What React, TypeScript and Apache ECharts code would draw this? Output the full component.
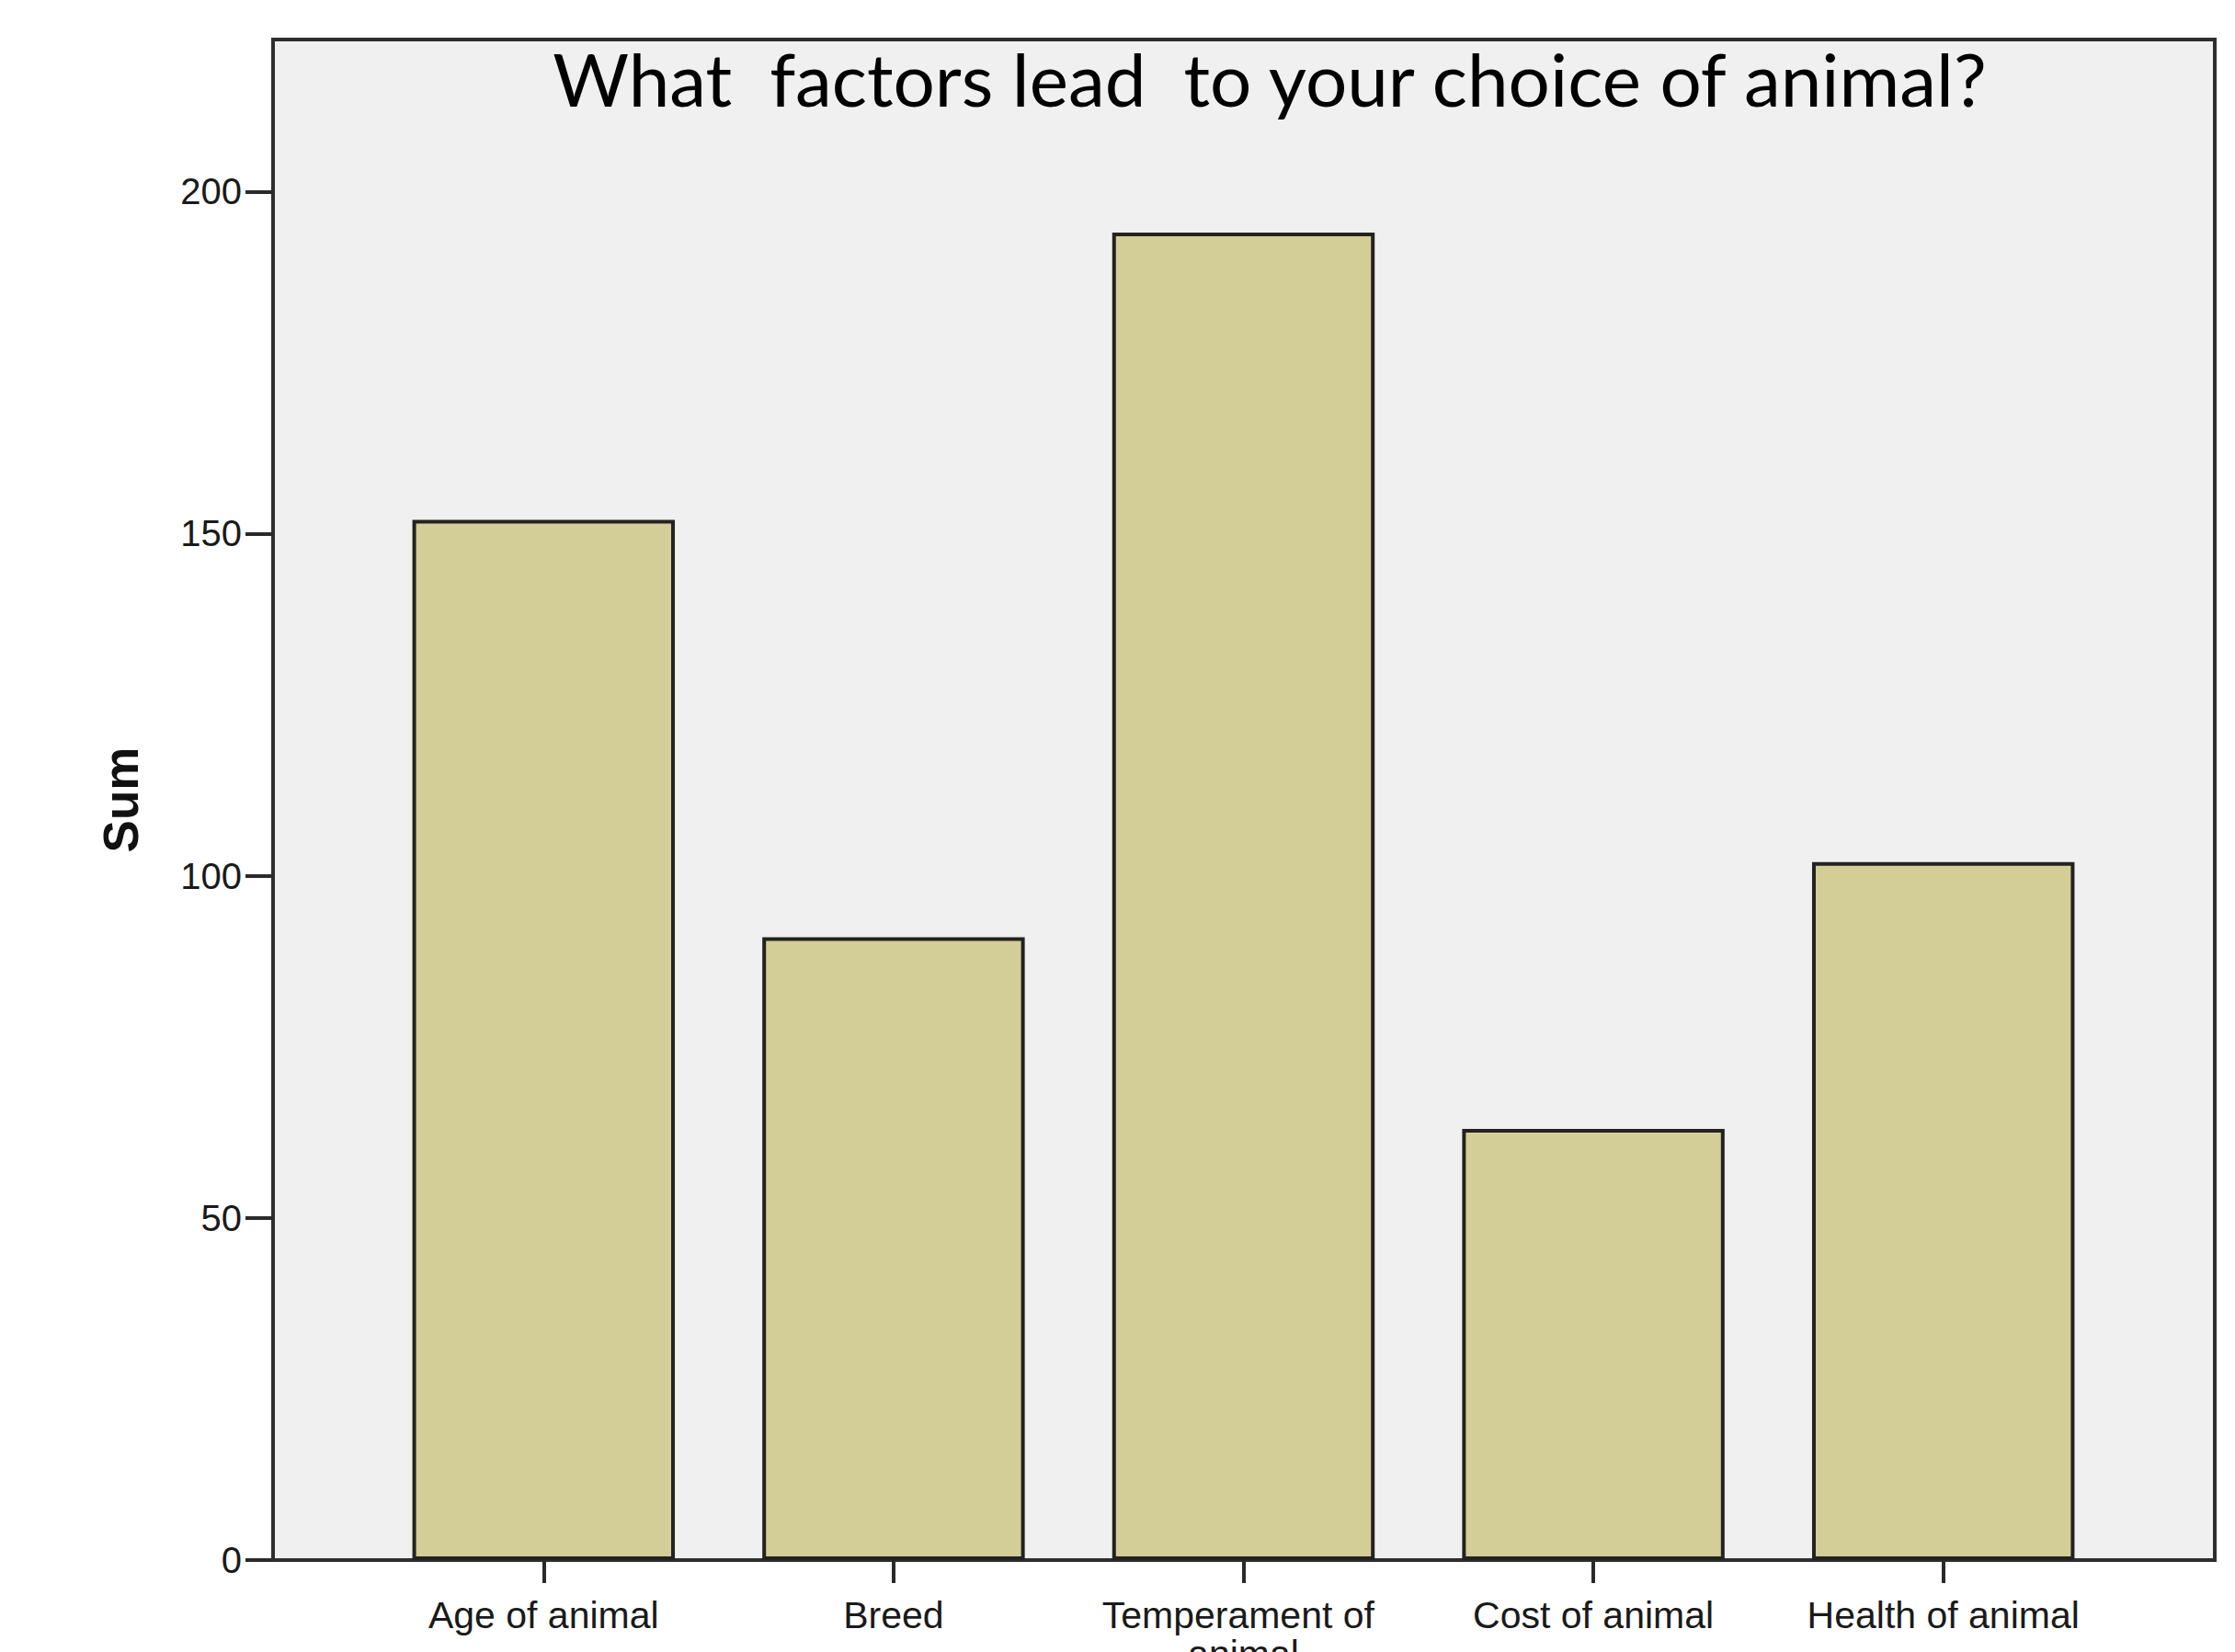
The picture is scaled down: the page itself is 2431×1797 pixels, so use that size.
import React, { useEffect, useRef } from "react";
import * as echarts from "echarts";

const categories = ["Age of animal", "Breed", "Temperament of animal", "Cost of animal", "Health of animal"];
const sums = [152, 91, 194, 63, 102];
const yTicks = [0, 50, 100, 150, 200];
const titleText = "What  factors lead  to your choice of animal?";
const yName = "Sum";

export default function App() {
  const ref = useRef<HTMLDivElement>(null);
  useEffect(() => {
    if (!ref.current) return;
    const chart = echarts.init(ref.current, null, { renderer: "svg" });
    const yMax = 222.2;
    chart.setOption({
      animation: false,
      backgroundColor: "#ffffff",
      textStyle: { fontFamily: "Liberation Sans" },
      graphic: [
        {
          type: "text",
          x: 1381,
          y: 85,
          z: 10,
          style: {
            text: titleText,
            font: "80px Lato",
            fill: "#000000",
            align: "center",
            verticalAlign: "middle",
          },
        },
      ],
      grid: [
        {
          left: 297,
          right: 22,
          top: 43,
          bottom: 100,
          show: true,
          backgroundColor: "#f0f0f0",
          borderColor: "#2e2e2e",
          borderWidth: 4,
          outerBoundsMode: "none",
          containLabel: false,
        },
        { left: 401, right: 127, top: 43, bottom: 100, outerBoundsMode: "none", containLabel: false },
      ],
      xAxis: [
        { gridIndex: 0, type: "value", min: 0, max: 1, show: false },
        {
          gridIndex: 1,
          type: "category",
          data: categories,
          axisLine: { show: false },
          axisTick: {
            show: true,
            alignWithLabel: true,
            length: 25,
            lineStyle: { color: "#2a2a2a", width: 4 },
          },
          axisLabel: {
            interval: 0,
            margin: 39,
            color: "#1a1a1a",
            fontFamily: "Liberation Sans",
            fontSize: 41,
            lineHeight: 42,
            width: 320,
            overflow: "break",
          },
          splitLine: { show: false },
        },
      ],
      yAxis: [
        {
          gridIndex: 0,
          type: "value",
          min: 0,
          max: yMax,
          interval: 50,
          name: yName,
          nameLocation: "middle",
          nameGap: 139,
          nameTextStyle: {
            fontFamily: "Liberation Sans",
            fontWeight: "bold",
            fontSize: 53,
            lineHeight: 53,
            color: "#111111",
          },
          axisLine: { show: true, lineStyle: { color: "#2e2e2e", width: 4 } },
          axisTick: {
            show: true,
            length: 30,
            customValues: yTicks,
            lineStyle: { color: "#2a2a2a", width: 4 },
          },
          axisLabel: {
            margin: 34,
            customValues: yTicks,
            color: "#1a1a1a",
            fontFamily: "Liberation Sans",
            fontSize: 40,
          },
          splitLine: { show: false },
        },
        { gridIndex: 1, type: "value", min: 0, max: yMax, show: false },
      ],
      series: [
        {
          type: "bar",
          xAxisIndex: 1,
          yAxisIndex: 1,
          data: sums,
          barWidth: "75%",
          itemStyle: {
            color: "#d3ce97",
            borderColor: "#222220",
            borderWidth: 4,
          },
        },
      ],
    });
    return () => chart.dispose();
  }, []);
  return (
    <div
      ref={ref}
      style={{ position: "absolute", left: 0, top: 0, width: 2431, height: 1797, overflow: "hidden" }}
    />
  );
}
